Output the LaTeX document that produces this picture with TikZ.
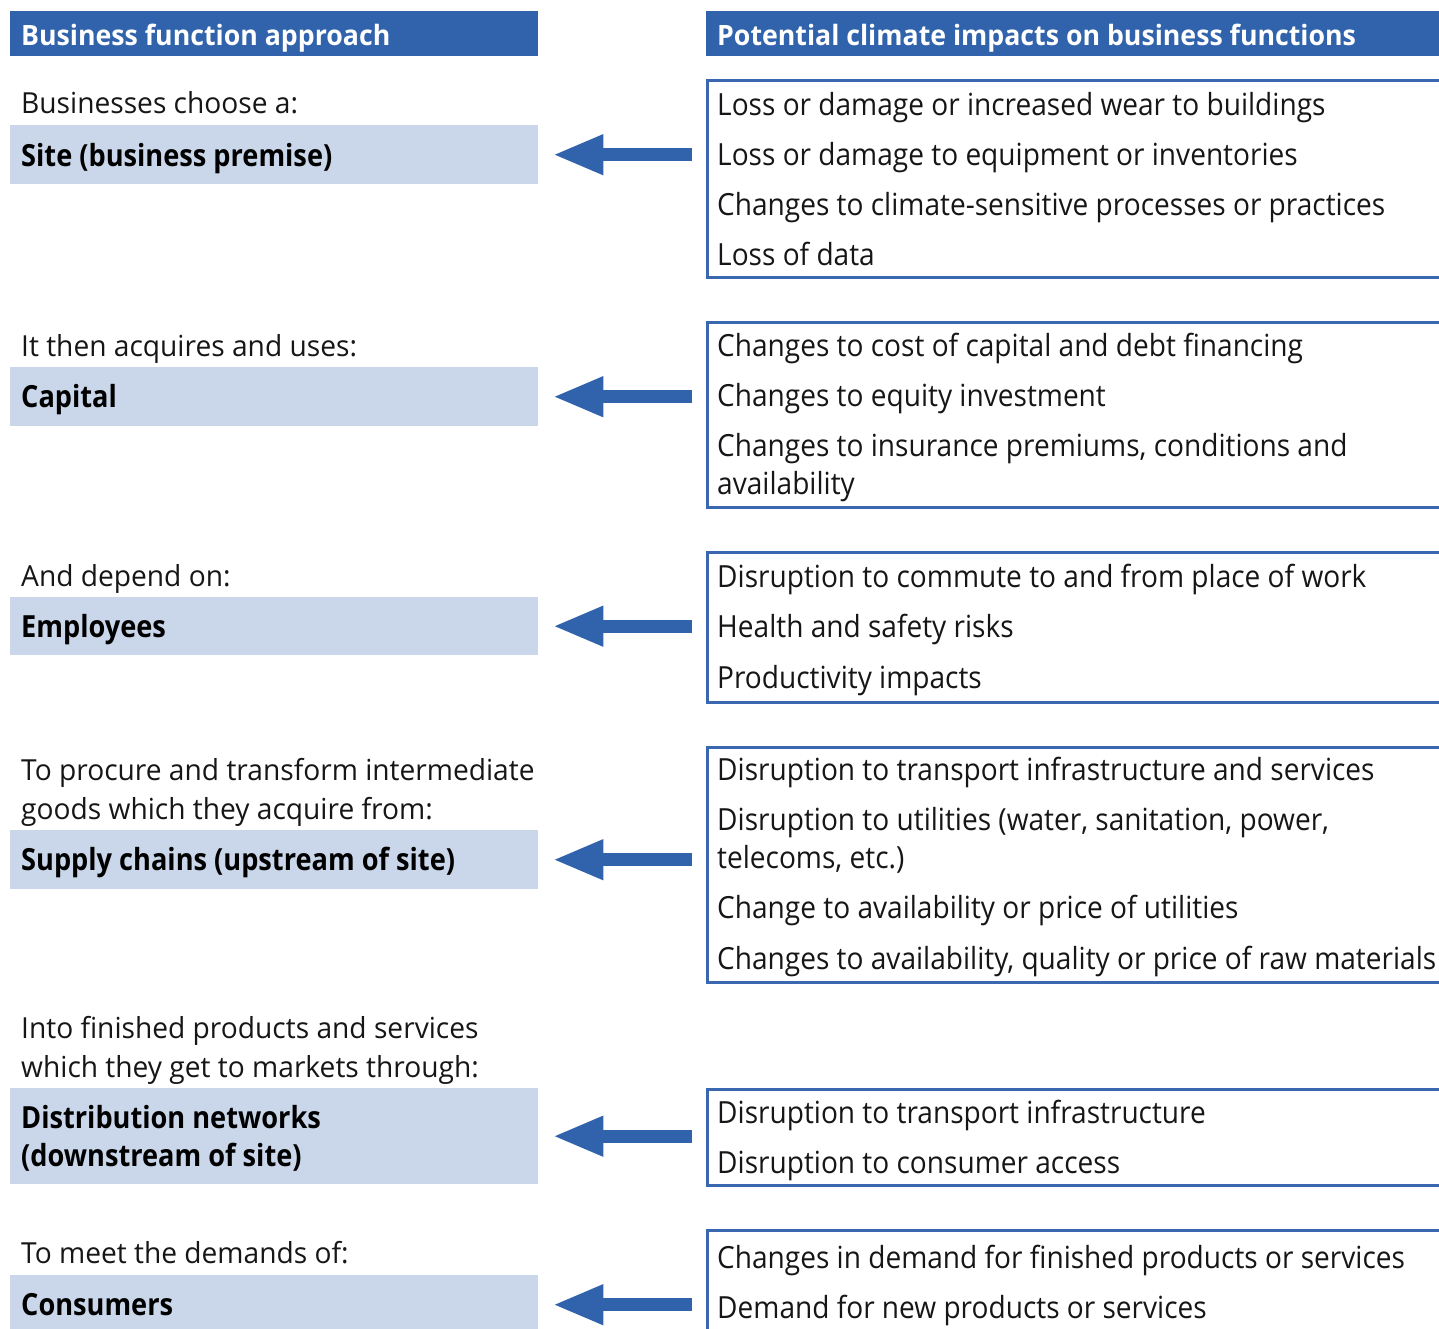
\documentclass[tikz,border=0pt]{standalone}
\usepackage{fontspec}
\setmainfont{Open Sans}
\newfontfamily\rawfont{Open Sans}
\newlength\mylen
% right column regular (calibrated on three lines)
\settowidth\mylen{\rawfont\fontsize{30.5}{36}\selectfont Changes to climate-sensitive processes or practices\space Loss or damage or increased wear to buildings\space Changes to availability, quality or price of raw materials}
\pgfmathsetmacro\rs{2010/\the\mylen}
% left column regular
\settowidth\mylen{\rawfont\fontsize{29}{34}\selectfont To procure and transform intermediate\space Businesses choose a:\space which they get to markets through:}
\pgfmathsetmacro\ls{1265/\the\mylen}
% left column bold
\settowidth\mylen{\rawfont\bfseries\fontsize{30.5}{36}\selectfont Supply chains (upstream of site)\space Site (business premise)}
\pgfmathsetmacro\lbs{752/\the\mylen}
% header bold
\settowidth\mylen{\rawfont\bfseries\fontsize{28}{34}\selectfont Potential climate impacts on business functions\space Business function approach}
\pgfmathsetmacro\hs{1015/\the\mylen}
\edef\tmpdef{\noexpand\newfontfamily\noexpand\rfont[FakeStretch=\rs]{Open Sans}}\tmpdef
\edef\tmpdef{\noexpand\newfontfamily\noexpand\lfont[FakeStretch=\ls]{Open Sans}}\tmpdef
\edef\tmpdef{\noexpand\newfontfamily\noexpand\lbfont[FakeStretch=\lbs]{Open Sans}}\tmpdef
\edef\tmpdef{\noexpand\newfontfamily\noexpand\hfont[FakeStretch=\hs]{Open Sans}}\tmpdef
\usetikzlibrary{arrows.meta}
\definecolor{hdrblue}{RGB}{49,99,172}
\definecolor{bordblue}{RGB}{58,104,176}
\definecolor{lightblue}{RGB}{202,215,234}
\definecolor{txt}{RGB}{22,22,22}
\tikzset{
  hdr/.style={fill=hdrblue, anchor=north west, inner sep=0pt, minimum height=45pt},
  hdrtxt/.style={anchor=base west, inner sep=0pt, text=white, font=\hfont\bfseries\fontsize{28}{34}\selectfont},
  lbox/.style={fill=lightblue, anchor=north west, inner sep=0pt, minimum width=528pt},
  rbox/.style={draw=bordblue, line width=2.5pt, anchor=north west, inner sep=0pt, minimum width=760pt},
  ltxt/.style={anchor=base west, inner sep=0pt, text=txt, font=\lfont\fontsize{29}{34}\selectfont},
  lbtxt/.style={anchor=base west, inner sep=0pt, text=black, font=\lbfont\bfseries\fontsize{30.5}{36}\selectfont},
  rtxt/.style={anchor=base west, inner sep=0pt, text=txt, font=\rfont\fontsize{30.5}{36}\selectfont},
  bigarrow/.style={draw=hdrblue, line width=13pt, -{Triangle[length=51pt,width=37pt]}, shorten <=14pt, shorten >=14pt}
}
\begin{document}
\begin{tikzpicture}[x=1pt,y=-1pt]
\useasboundingbox (0,0) rectangle (1439,1328);
% headers
\node[hdr, minimum width=528pt] (hl) at (10,11) {};
\node[hdr, minimum width=760pt] (hr) at (706,11) {};
\node[hdrtxt] (hlt) at (21,45) {Business function approach};
\node[hdrtxt] (hrt) at (717,45) {Potential climate impacts on business functions};

% left column
\node[ltxt] (i1) at (21,113) {Businesses choose a:};
\node[lbox, minimum height=59pt] (s1) at (10,125) {};
\node[lbtxt] (s1t) at (21,166) {Site (business premise)};

\node[ltxt] (i2) at (21,356) {It then acquires and uses:};
\node[lbox, minimum height=59pt] (s2) at (10,367) {};
\node[lbtxt] (s2t) at (21,407) {Capital};

\node[ltxt] (i3) at (21,586) {And depend on:};
\node[lbox, minimum height=58pt] (s3) at (10,597) {};
\node[lbtxt] (s3t) at (21,637) {Employees};

\node[ltxt] (i4a) at (21,780) {To procure and transform intermediate};
\node[ltxt] (i4b) at (21,819) {goods which they acquire from:};
\node[lbox, minimum height=59pt] (s4) at (10,830) {};
\node[lbtxt] (s4t) at (21,870) {Supply chains (upstream of site)};

\node[ltxt] (i5a) at (21,1038) {Into finished products and services};
\node[ltxt] (i5b) at (21,1077) {which they get to markets through:};
\node[lbox, minimum height=96pt] (s5) at (10,1088) {};
\node[lbtxt] (s5a) at (21,1128) {Distribution networks};
\node[lbtxt] (s5b) at (21,1166) {(downstream of site)};

\node[ltxt] (i6) at (21,1263) {To meet the demands of:};
\node[lbox, minimum height=59pt] (s6) at (10,1275) {};
\node[lbtxt] (s6t) at (21,1315) {Consumers};

% right column
\node[rbox, minimum height=197pt] (r1) at (706,79) {};
\node[rtxt] (r1a) at (717,115) {Loss or damage or increased wear to buildings};
\node[rtxt] (r1b) at (717,165) {Loss or damage to equipment or inventories};
\node[rtxt] (r1c) at (717,215) {Changes to climate-sensitive processes or practices};
\node[rtxt] (r1d) at (717,265) {Loss of data};

\node[rbox, minimum height=185pt] (r2) at (706,321) {};
\node[rtxt] (r2a) at (717,356) {Changes to cost of capital and debt financing};
\node[rtxt] (r2b) at (717,406) {Changes to equity investment};
\node[rtxt] (r2c) at (717,456) {Changes to insurance premiums, conditions and};
\node[rtxt] (r2d) at (717,494) {availability};

\node[rbox, minimum height=150pt] (r3) at (706,551) {};
\node[rtxt] (r3a) at (717,587) {Disruption to commute to and from place of work};
\node[rtxt] (r3b) at (717,637) {Health and safety risks};
\node[rtxt] (r3c) at (717,688) {Productivity impacts};

\node[rbox, minimum height=235pt] (r4) at (706,746) {};
\node[rtxt] (r4a) at (717,780) {Disruption to transport infrastructure and services};
\node[rtxt] (r4b) at (717,830) {Disruption to utilities (water, sanitation, power,};
\node[rtxt] (r4c) at (717,868) {telecoms, etc.)};
\node[rtxt] (r4d) at (717,918) {Change to availability or price of utilities};
\node[rtxt] (r4e) at (717,969) {Changes to availability, quality or price of raw materials};

\node[rbox, minimum height=96pt] (r5) at (706,1088) {};
\node[rtxt] (r5a) at (717,1123) {Disruption to transport infrastructure};
\node[rtxt] (r5b) at (717,1173) {Disruption to consumer access};

\node[rbox, minimum height=150pt] (r6) at (706,1229) {};
\node[rtxt] (r6a) at (717,1268) {Changes in demand for finished products or services};
\node[rtxt] (r6b) at (717,1318) {Demand for new products or services};

% arrows
\draw[bigarrow] (r1.west |- s1.east) -- (s1.east);
\draw[bigarrow] (r2.west |- s2.east) -- (s2.east);
\draw[bigarrow] (r3.west |- s3.east) -- (s3.east);
\draw[bigarrow] (r4.west |- s4.east) -- (s4.east);
\draw[bigarrow] (r5.west |- s5.east) -- (s5.east);
\draw[bigarrow] (r6.west |- s6.east) -- (s6.east);
\end{tikzpicture}
\end{document}
